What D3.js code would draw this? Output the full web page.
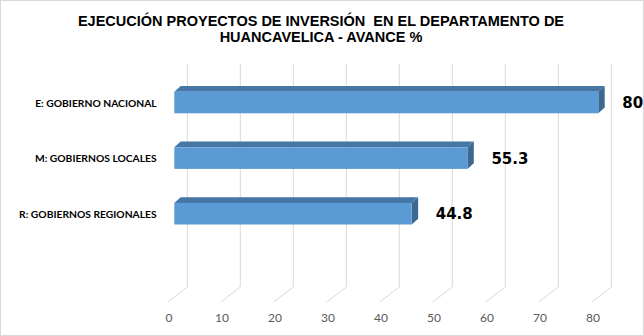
<!DOCTYPE html>
<html><head><meta charset="utf-8">
<script src="https://cdn.jsdelivr.net/npm/d3@7"></script>
<style>body{margin:0;background:#fff}svg{display:block}</style>
</head><body>
<script>
const categories = ["E: GOBIERNO NACIONAL", "M: GOBIERNOS LOCALES", "R: GOBIERNOS REGIONALES"];
const values = [80, 55.3, 44.8];
const ticks = [0, 10, 20, 30, 40, 50, 60, 70, 80];
const titleLines = ["EJECUCIÓN PROYECTOS DE INVERSIÓN  EN EL DEPARTAMENTO DE", "HUANCAVELICA - AVANCE %"];

const W = 644, H = 336;
const svg = d3.select("body").append("svg").attr("width", W).attr("height", H);
svg.append("rect").attr("x",0.5).attr("y",0.5).attr("width",W-1).attr("height",H-1)
  .attr("fill","#fff").attr("stroke","#D9D9D9");

const x = d3.scaleLinear().domain([0, 80]).range([174.3, 598.3]);
const y = d3.scalePoint().domain(categories).range([74.7, 241.5]).padding(0.5);
const barH = 21.6, bdx = 6.4, bdy = 5.7;
const wallDx = 13, floorDx = -6.6, gridTop = 64, wallBottom = 287, floorFront = 302;

// gridlines (back wall + floor)
const g = svg.append("g");
ticks.forEach(t => {
  const xb = x(t) + wallDx, xf = x(t) + floorDx;
  g.append("path").attr("d", `M${xb},${gridTop}L${xb},${wallBottom}L${xf},${floorFront}`)
    .attr("fill","none").attr("stroke","#D9D9D9").attr("stroke-width",1);
  g.append("text").attr("x", x(t) - 5.4).attr("y", 321.5).attr("text-anchor","middle")
    .attr("font-family","Lato, 'Open Sans', sans-serif").attr("font-size", 12).attr("fill","#595959").text(t);
});

// bars
const bars = svg.append("g");
categories.forEach((c, i) => {
  const x0 = x(0), x1 = x(values[i]), yt = y(c) - barH/2, yb = yt + barH;
  bars.append("path").attr("d", `M${x0},${yt}L${x0+bdx},${yt-bdy}L${x1+bdx},${yt-bdy}L${x1},${yt}Z`).attr("fill","#4576A6");
  bars.append("path").attr("d", `M${x1},${yt}L${x1+bdx},${yt-bdy}L${x1+bdx},${yb-bdy}L${x1},${yb}Z`).attr("fill","#3D6891");
  bars.append("rect").attr("x", x0).attr("y", yt).attr("width", x1 - x0).attr("height", barH).attr("fill","#5B9BD5");
  // category label
  svg.append("text").attr("x", 156.7).attr("y", y(c) + 4).attr("text-anchor","end")
    .attr("font-family","Lato, sans-serif").attr("font-weight","bold").attr("font-size", 10.3).attr("fill","#000").text(c);
  // value label
  svg.append("text").attr("x", x1 + 24).attr("y", y(c) + 5.5)
    .attr("font-family","'DejaVu Sans', sans-serif").attr("font-weight","bold").attr("font-size", 15).attr("fill","#000").text(values[i]);
});

// title
titleLines.forEach((l, i) => {
  svg.append("text").attr("x", 321).attr("y", 25.5 + i*16.8).attr("text-anchor","middle")
    .attr("font-family","'Liberation Sans', Arial, sans-serif").attr("font-weight","bold").attr("font-size", 14.5)
    .attr("fill","#000").style("white-space","pre").text(l);
});
</script>
</body></html>
